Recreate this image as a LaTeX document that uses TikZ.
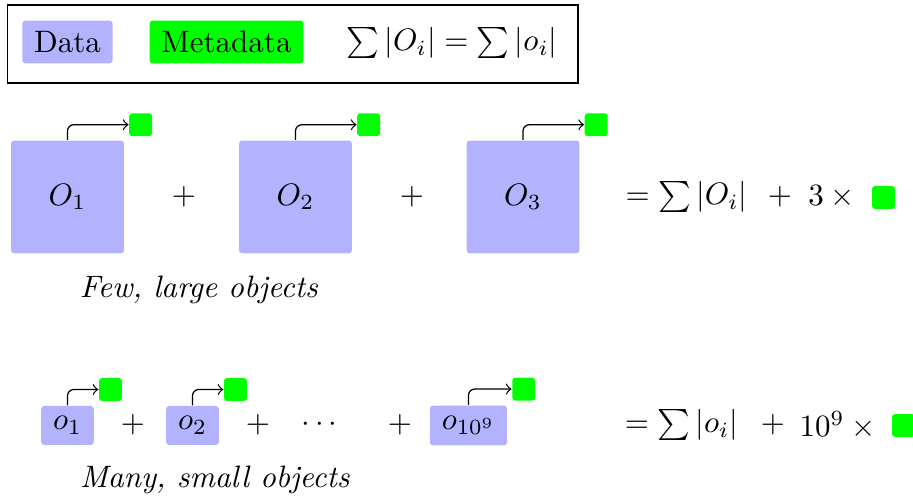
\documentclass[tikz,border=0pt]{standalone}
\usepackage{amsmath,amssymb}
\usetikzlibrary{positioning}
\definecolor{databg}{rgb}{0.7,0.7,1}
\definecolor{metabg}{rgb}{0,1,0}

\begin{document}
\begin{tikzpicture}[x=0.3225pt,y=-0.3225pt,
    data/.style={fill=databg, rounded corners=1pt, inner xsep=3.8pt, inner ysep=3.4pt},
    bigobj/.style={data, minimum size=36.4pt},
    meta/.style={fill=metabg, rounded corners=1pt, minimum size=7.4pt, inner sep=0pt},
    link/.style={->, rounded corners=2pt}]
    \useasboundingbox (0,0) rectangle (913,500);
    % legend
    \draw (7.5,5) rectangle (578,83);
    \node[data] (ldata) at (67.5,42) {Data};
    \node[data, fill=metabg] (lmeta) at (226.5,42) {Metadata};
    \node (lsum) at (452,43) {$\sum|O_i| = \sum|o_i|$};
    % few, large objects
    \node[bigobj] (O1) at (67.5,197) {$O_1$};
    \node[bigobj] (O2) at (295.5,197) {$O_2$};
    \node[bigobj] (O3) at (523,197) {$O_3$};
    \node[meta, above right=1pt and 1.3pt of O1.north east] (m1) {};
    \node[meta, above right=1pt and 1.3pt of O2.north east] (m2) {};
    \node[meta, above right=1pt and 1.3pt of O3.north east] (m3) {};
    \draw[link] (O1.north) |- (m1.west);
    \draw[link] (O2.north) |- (m2.west);
    \draw[link] (O3.north) |- (m3.west);
    \node (p1) at (184,197) {$+$};
    \node (p2) at (412,197) {$+$};
    \node (r1) at (686.5,197) {$=\sum|O_i|$};
    \node (r1p) at (780,197) {$+$};
    \node (r1n) at (835,197) {$3\times{}$};
    \node[meta] (r1m) at (883.5,197.5) {};
    \node (few) at (199,290) {\textit{Few, large objects}};
    % many, small objects
    \node[data] (o1) at (67.5,425.5) {$o_1$};
    \node[data] (o2) at (192.5,425.5) {$o_2$};
    \node[data] (on) at (468.5,425.5) {$o_{10^9}$};
    \node[meta, above right=1.2pt and 1.3pt of o1.north east] (n1) {};
    \node[meta, above right=1.2pt and 1.3pt of o2.north east] (n2) {};
    \node[meta, above right=1.2pt and 1.3pt of on.north east] (nn) {};
    \draw[link] (o1.north) |- (n1.west);
    \draw[link] (o2.north) |- (n2.west);
    \draw[link] (on.north) |- (nn.west);
    \node (q1) at (133,425) {$+$};
    \node (q2) at (258,425) {$+$};
    \node (dots) at (322,425) {$\cdots$};
    \node (q3) at (400,425) {$+$};
    \node (r2) at (681.5,425) {$=\sum|o_i|$};
    \node (r2p) at (773,425) {$+$};
    \node (r2n) at (841,425) {$10^9\times{}$};
    \node[meta] (r2m) at (903.5,425.5) {};
    \node (many) at (215,480) {\textit{Many, small objects}};
\end{tikzpicture}
\end{document}
